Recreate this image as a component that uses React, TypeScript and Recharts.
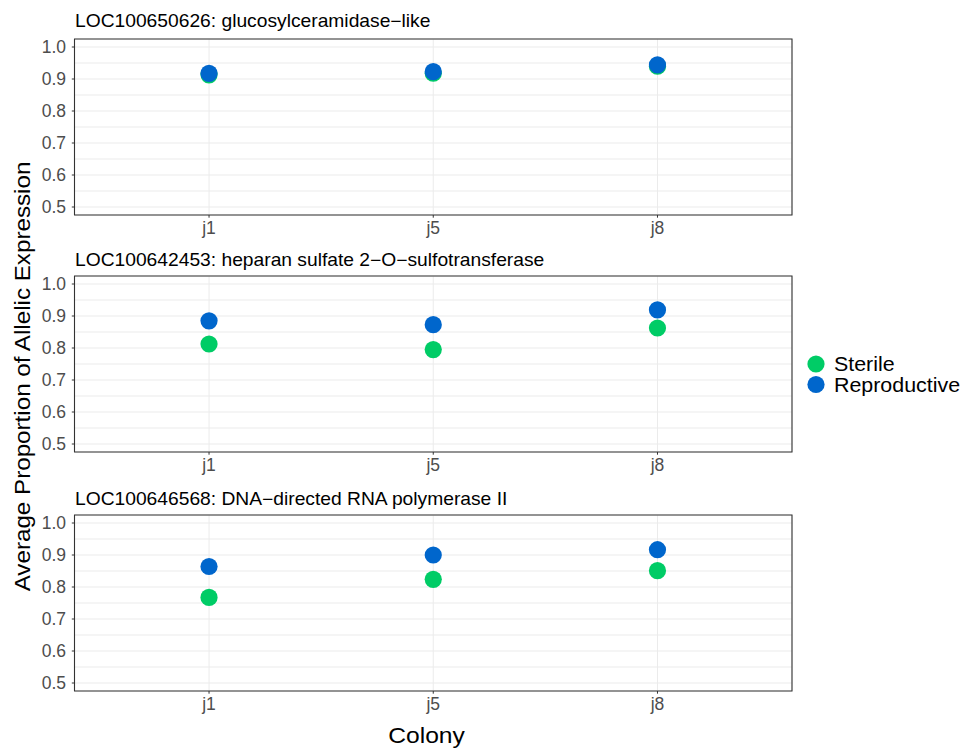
import { CartesianGrid, ReferenceArea, Scatter, ScatterChart, XAxis, YAxis } from 'recharts'

const COLONIES = ['j1', 'j5', 'j8']
const GENES = [
  'LOC100650626: glucosylceramidase\u2212like',
  'LOC100642453: heparan sulfate 2\u2212O\u2212sulfotransferase',
  'LOC100646568: DNA\u2212directed RNA polymerase II',
]
// one row per gene, one value per colony
const STERILE = [
  [0.913, 0.918, 0.94],
  [0.8125, 0.795, 0.8625],
  [0.7675, 0.824, 0.851],
]
const REPRODUCTIVE = [
  [0.9175, 0.923, 0.944],
  [0.885, 0.873, 0.919],
  [0.864, 0.9, 0.9165],
]
const Y_TICKS = [0.5, 0.55, 0.6, 0.65, 0.7, 0.75, 0.8, 0.85, 0.9, 0.95, 1.0]
const SERIES = [
  { name: 'Sterile', color: '#00CC66', values: STERILE },
  { name: 'Reproductive', color: '#0066CC', values: REPRODUCTIVE },
]

const FONT = "'Liberation Sans', Arial, Helvetica, sans-serif"
const PANEL_TOPS = [38.5, 276, 515.3]
const TITLE_BASELINES = [27, 266, 505]
const PLOT_H = 176
const TOP_PAD = 30

const isMajor = (v: number) => Math.abs(v * 10 - Math.round(v * 10)) < 1e-6

function YTick({ x, y, payload }: any) {
  if (!isMajor(payload.value)) return null
  return (
    <g>
      <line x1={x - 2.7} x2={x} y1={y} y2={y} stroke="#333333" strokeWidth={1} />
      <text x={x - 8.5} y={y} dy="0.36em" textAnchor="end" fontSize={17.5} fill="#4D4D4D" fontFamily={FONT}>
        {payload.value.toFixed(1)}
      </text>
    </g>
  )
}

function XTick({ x, y, payload }: any) {
  return (
    <g>
      <line x1={x} x2={x} y1={y} y2={y + 2.7} stroke="#333333" strokeWidth={1} />
      <text x={x} y={y + 18.5} textAnchor="middle" fontSize={17.5} fill="#4D4D4D" fontFamily={FONT}>
        {COLONIES[payload.value - 1]}
      </text>
    </g>
  )
}

const dot = (color: string) => (p: any) => <circle cx={p.cx} cy={p.cy} r={8.6} fill={color} />

function Panel({ idx }: { idx: number }) {
  return (
    <div style={{ position: 'absolute', left: 0, top: PANEL_TOPS[idx] - TOP_PAD }}>
      <ScatterChart width={800} height={TOP_PAD + PLOT_H + 30} margin={{ top: TOP_PAD, right: 8, left: 14, bottom: 0 }}>
        <CartesianGrid stroke="#EBEBEB" strokeWidth={1} />
        <XAxis
          type="number"
          dataKey="x"
          domain={[0.4, 3.6]}
          ticks={[1, 2, 3]}
          height={30}
          axisLine={false}
          tickLine={false}
          tickSize={0}
          tickMargin={0}
          tick={<XTick />}
          interval={0}
        />
        <YAxis
          type="number"
          dataKey="y"
          domain={[0.475, 1.025]}
          ticks={Y_TICKS}
          width={60.5}
          axisLine={false}
          tickLine={false}
          tickSize={0}
          tickMargin={0}
          tick={<YTick />}
          interval={0}
        />
        <ReferenceArea x1={0.4} x2={3.6} y1={0.475} y2={1.025} fill="none" stroke="#333333" strokeWidth={1.1} />
        {SERIES.map((s) => (
          <Scatter
            key={s.name}
            name={s.name}
            data={s.values[idx].map((v, i) => ({ x: i + 1, y: v }))}
            fill={s.color}
            shape={dot(s.color)}
            isAnimationActive={false}
          />
        ))}
      </ScatterChart>
    </div>
  )
}

export default function App() {
  return (
    <div style={{ position: 'absolute', left: 0, top: 0, width: 961, height: 748, background: '#fff' }}>
      {[0, 1, 2].map((i) => (
        <Panel key={i} idx={i} />
      ))}
      <svg style={{ position: 'absolute', left: 0, top: 0 }} width={961} height={748} pointerEvents="none">
        {GENES.map((g, i) => (
          <text
            key={g}
            transform={`translate(75,${TITLE_BASELINES[i]}) scale(1.1,1)`}
            fontSize={17.5}
            fontFamily={FONT}
            fill="#000"
          >
            {g}
          </text>
        ))}
        <text
          transform="translate(29.5,376.5) rotate(-90) scale(1.1,1)"
          textAnchor="middle"
          fontSize={22}
          fontFamily={FONT}
          fill="#000"
        >
          Average Proportion of Allelic Expression
        </text>
        <text
          transform="translate(426.5,743) scale(1.12,1)"
          textAnchor="middle"
          fontSize={22}
          fontFamily={FONT}
          fill="#000"
        >
          Colony
        </text>
        {SERIES.map((s, i) => (
          <g key={s.name}>
            <circle cx={816} cy={364 + i * 20.5} r={8.6} fill={s.color} />
            <text
              transform={`translate(834,${364 + i * 20.5}) scale(1.07,1)`}
              dy="0.36em"
              fontSize={20}
              fontFamily={FONT}
              fill="#000"
            >
              {s.name}
            </text>
          </g>
        ))}
      </svg>
    </div>
  )
}
